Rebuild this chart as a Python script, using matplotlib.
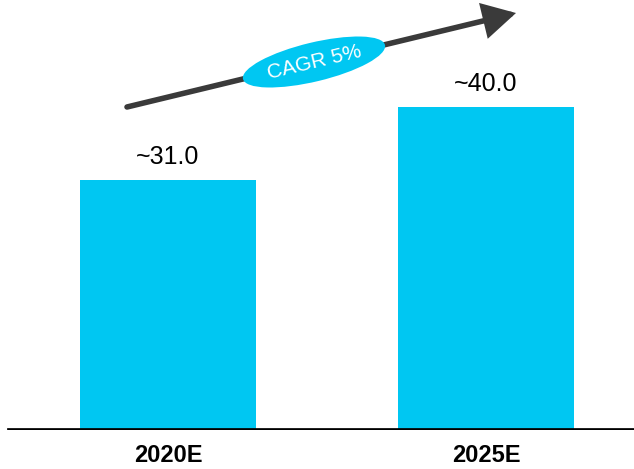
import matplotlib.pyplot as plt
from matplotlib.patches import Ellipse, FancyArrowPatch

years = ["2020E", "2025E"]
values = [31.0, 40.0]
value_labels = ["~31.0", "~40.0"]
cagr_text = "CAGR 5%"

bar_color = "#00C7F2"
arrow_color = "#3A3A3A"

plt.rcParams["font.family"] = ["Liberation Sans", "DejaVu Sans"]

fig = plt.figure(figsize=(6.34, 4.69), dpi=100)
ax = fig.add_axes([0, 39 / 469, 1, 430 / 469])

x = range(len(years))
bars = ax.bar(x, values, width=0.553, color=bar_color, zorder=2)

ax.set_xlim(-0.528, 1.465)
ax.set_ylim(0, 53.25)

# value labels above each bar
for rect, lab in zip(bars, value_labels):
    ax.annotate(lab, (rect.get_x() + rect.get_width() / 2, rect.get_height()),
                xytext=(0, 8), textcoords="offset points",
                ha="center", va="bottom", fontsize=18, color="black")

# axis styling: only a thick baseline
for side in ["top", "right", "left", "bottom"]:
    ax.spines[side].set_visible(False)
ax.axhline(0, xmin=9 / 634, xmax=1, color="black", linewidth=3.4, zorder=3)
ax.set_yticks([])
ax.set_xticks(list(x))
ax.set_xticklabels(years, fontsize=17, fontweight="bold")
ax.tick_params(axis="x", length=0, pad=10)

# growth arrow across the top
fig.patches.append(FancyArrowPatch(
    (127 / 634, 1 - 107 / 469), (516 / 634, 1 - 13 / 469),
    transform=fig.transFigure, arrowstyle="-|>,head_length=1.0,head_width=0.55",
    mutation_scale=18, linewidth=4, color=arrow_color, shrinkA=0, shrinkB=0,
    joinstyle="miter"))

# CAGR badge
badge = Ellipse((3.14, 4.69 - 0.62), 1.46, 0.39, angle=13.5,
                transform=fig.dpi_scale_trans, facecolor=bar_color,
                edgecolor="none", zorder=5)
fig.patches.append(badge)
fig.text(3.14 / 6.34, (4.69 - 0.62) / 4.69, cagr_text, rotation=13.5,
         rotation_mode="anchor", ha="center", va="center",
         fontsize=15, color="white", zorder=6)

fig.savefig("out.png", dpi=100)
